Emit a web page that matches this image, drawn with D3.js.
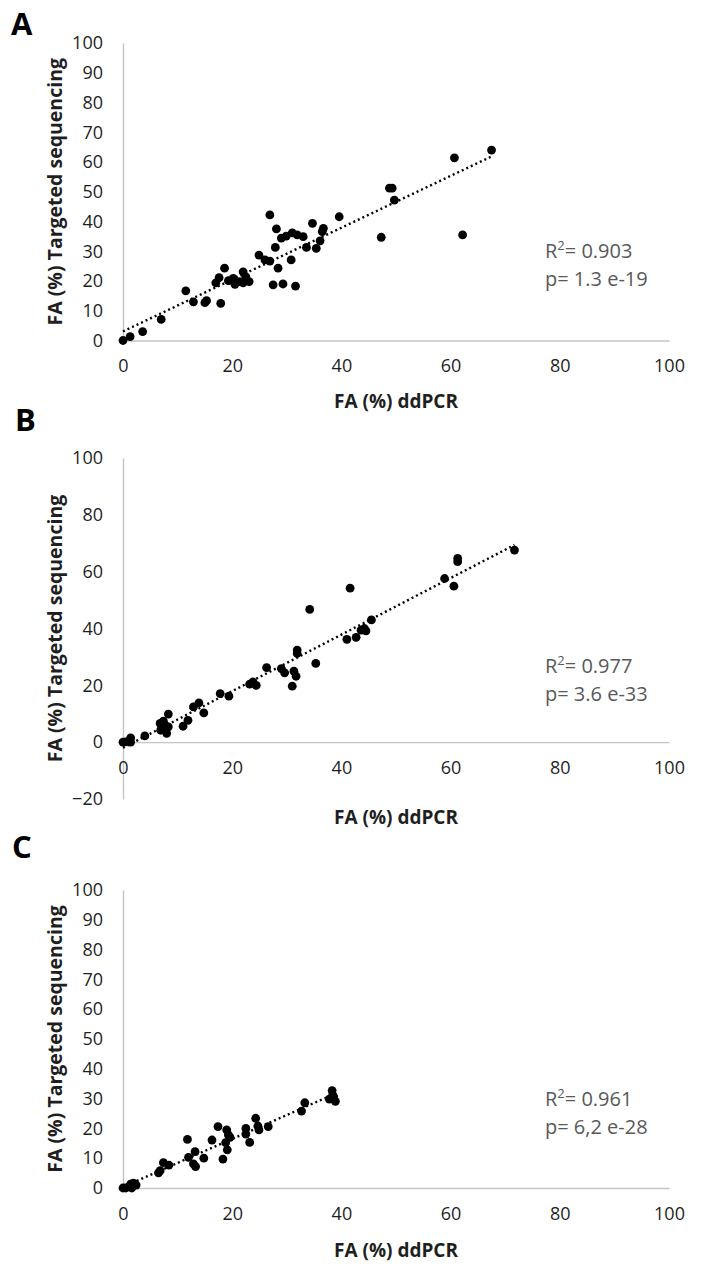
<!DOCTYPE html>
<html>
<head>
<meta charset="utf-8">
<script src="https://cdn.jsdelivr.net/npm/d3@7"></script>
<style>
  html, body { margin: 0; padding: 0; background: #fff; }
  svg text { font-family: "Open Sans", "Noto Sans", sans-serif; }
</style>
</head>
<body>
<svg id="chart" width="707" height="1275"></svg>
<script>
// ---- Data ----
const aX = [0,1.3,3.6,7.0,11.5,12.9,15.0,15.3,17.9,17.0,17.6,18.6,19.3,20.2,20.5,21.4,22.0,22.5,23.1,22.0,24.9,26.0,26.9,26.9,28.1,27.9,28.4,27.5,29.3,29.0,29.9,31.0,30.8,31.6,31.9,33.0,33.6,34.7,35.4,36.1,36.7,36.5,39.6,47.3,48.8,49.3,49.7,60.7,62.2,67.5];
const aY = [0,1.3,3.0,7.1,16.7,13.0,12.7,13.4,12.5,19.4,21.1,24.3,20.1,20.9,18.9,19.8,23.1,21.4,19.8,19.4,28.7,27.1,26.7,42.2,37.5,31.3,24.3,18.7,19.0,34.4,35.1,36.2,27.1,18.3,35.5,34.9,31.3,39.4,31.0,33.5,37.7,36.6,41.6,34.7,51.2,51.2,47.2,61.4,35.5,64.0];

const bX = [0,0.5,1.4,1.4,4.0,6.8,7.1,7.4,8.0,8.3,8.3,7.7,6.9,11.0,11.9,12.9,13.9,14.8,17.8,19.4,23.2,23.8,24.4,26.3,29.0,29.6,31.0,31.3,31.7,31.9,31.9,35.3,34.2,41.6,41.0,42.7,43.6,44.2,44.5,45.5,58.9,60.6,61.3,61.3,71.7];
const bY = [0,0.1,1.5,0,2.2,6.6,5.0,7.4,3.1,9.9,5.4,6.0,4.2,5.6,7.7,12.4,13.8,10.3,17.1,16.2,20.4,21.2,20.0,26.2,25.9,24.4,19.7,25.0,23.2,32.4,31.2,27.7,46.7,54.2,36.2,36.9,39.4,40.0,39.2,43.0,57.6,54.9,64.7,63.5,67.6];

const cX = [0,0.5,1.1,1.6,1.9,2.4,1.4,6.5,6.8,7.4,8.4,11.8,12.0,12.9,13.3,13.2,14.8,16.3,17.4,18.3,19.0,18.8,19.1,19.6,19.3,22.5,22.5,23.2,24.3,24.7,24.9,26.6,32.7,33.3,38.3,38.4,37.8,38.9,38.6];
const cY = [0,0,0.4,0,1.6,1.0,1.3,5.1,5.8,8.5,7.7,16.3,10.3,8.1,7.2,12.2,10.0,16.1,20.6,9.7,19.5,15.2,12.8,17.0,17.8,20.0,18.1,15.3,23.4,20.8,19.5,20.6,25.8,28.6,32.7,31.2,29.8,29.1,30.6];

const panelLetters = ["A", "B", "C"];
const xTicks = [0, 20, 40, 60, 80, 100];
const yTicksAC = [0, 10, 20, 30, 40, 50, 60, 70, 80, 90, 100];
const yTicksB = [-20, 0, 20, 40, 60, 80, 100];
const r2Labels = ["0.903", "0.977", "0.961"];
const pLabels = ["p= 1.3 e-19", "p= 3.6 e-33", "p= 6,2 e-28"];
const xTitle = "FA (%) ddPCR";
const yTitle = "FA (%) Targeted sequencing";

// ---- Layout ----
const svg = d3.select("#chart");
const x = d3.scaleLinear().domain([0, 100]).range([123, 669]);

const panels = [
  { xs: aX, ys: aY, letter: panelLetters[0], yDomain: [0, 100], yRange: [340.5, 43], yTicks: yTicksAC,
    letterPos: [11, 35], xTitleY: 408, statY: 258, r2: r2Labels[0], p: pLabels[0] },
  { xs: bX, ys: bY, letter: panelLetters[1], yDomain: [-20, 100], yRange: [799, 458], yTicks: yTicksB,
    letterPos: [15, 431], xTitleY: 824, statY: 673, r2: r2Labels[1], p: pLabels[1] },
  { xs: cX, ys: cY, letter: panelLetters[2], yDomain: [0, 100], yRange: [1188, 890], yTicks: yTicksAC,
    letterPos: [12, 858], xTitleY: 1257, statY: 1106, r2: r2Labels[2], p: pLabels[2] }
];

const axisColor = "#c4c4c4";
const tickColor = "#1f1f1f";

panels.forEach(P => {
  const y = d3.scaleLinear().domain(P.yDomain).range(P.yRange);
  const g = svg.append("g");

  // y axis
  const yAxis = d3.axisLeft(y).tickValues(P.yTicks).tickSize(0).tickPadding(20).tickFormat(d3.format("d"));
  const yg = g.append("g").attr("transform", `translate(${x(0)},0)`).call(yAxis);
  yg.select(".domain").attr("stroke", axisColor).attr("stroke-width", 1.4);
  yg.selectAll("text").attr("fill", tickColor).style("font-size", "18px");

  // x axis at y = 0
  const xAxis = d3.axisBottom(x).tickValues(xTicks).tickSize(0).tickPadding(19).tickFormat(d3.format("d"));
  const xg = g.append("g").attr("transform", `translate(0,${y(0)})`).call(xAxis);
  xg.select(".domain").attr("stroke", axisColor).attr("stroke-width", 1.4);
  xg.selectAll("text").attr("fill", tickColor).style("font-size", "18px");

  // trend line (least squares) from data
  const n = P.xs.length;
  const mx = d3.mean(P.xs), my = d3.mean(P.ys);
  let sxy = 0, sxx = 0;
  for (let i = 0; i < n; i++) { sxy += (P.xs[i] - mx) * (P.ys[i] - my); sxx += (P.xs[i] - mx) ** 2; }
  const slope = sxy / sxx, icpt = my - slope * mx;
  const [x0, x1] = d3.extent(P.xs);
  g.append("line")
    .attr("x1", x(x0)).attr("y1", y(icpt + slope * x0))
    .attr("x2", x(x1)).attr("y2", y(icpt + slope * x1))
    .attr("stroke", "#000").attr("stroke-width", 2.4)
    .attr("stroke-dasharray", "2,3");

  // points
  g.selectAll("circle.pt").data(P.xs.map((v, i) => [v, P.ys[i]])).join("circle")
    .attr("class", "pt")
    .attr("cx", d => x(d[0])).attr("cy", d => y(d[1])).attr("r", 4.4)
    .attr("fill", "#000");

  // panel letter
  g.append("text").attr("x", P.letterPos[0]).attr("y", P.letterPos[1])
    .attr("font-weight", "bold").style("font-size", "31px").attr("fill", "#000").text(P.letter);

  // axis titles
  g.append("text").attr("x", (x(0) + x(100)) / 2).attr("y", P.xTitleY)
    .attr("text-anchor", "middle").attr("font-weight", "bold").style("font-size", "19px")
    .attr("fill", tickColor).text(xTitle);
  const yc = (P.yRange[0] + P.yRange[1]) / 2;
  g.append("text").attr("transform", `translate(55,${yc}) rotate(-90)`).attr("dy", "0.35em")
    .attr("text-anchor", "middle").attr("font-weight", "bold").style("font-size", "19.5px")
    .attr("fill", tickColor).text(yTitle);

  // stats
  const st = g.append("text").attr("x", 545).attr("y", P.statY).attr("fill", "#595959").style("font-size", "20px");
  st.append("tspan").text("R");
  st.append("tspan").attr("dy", -8).style("font-size", "13px").text("2");
  st.append("tspan").attr("dy", 8).text("= " + P.r2);
  g.append("text").attr("x", 545).attr("y", P.statY + 28).attr("fill", "#595959").style("font-size", "20px").text(P.p);
});
</script>
</body>
</html>
